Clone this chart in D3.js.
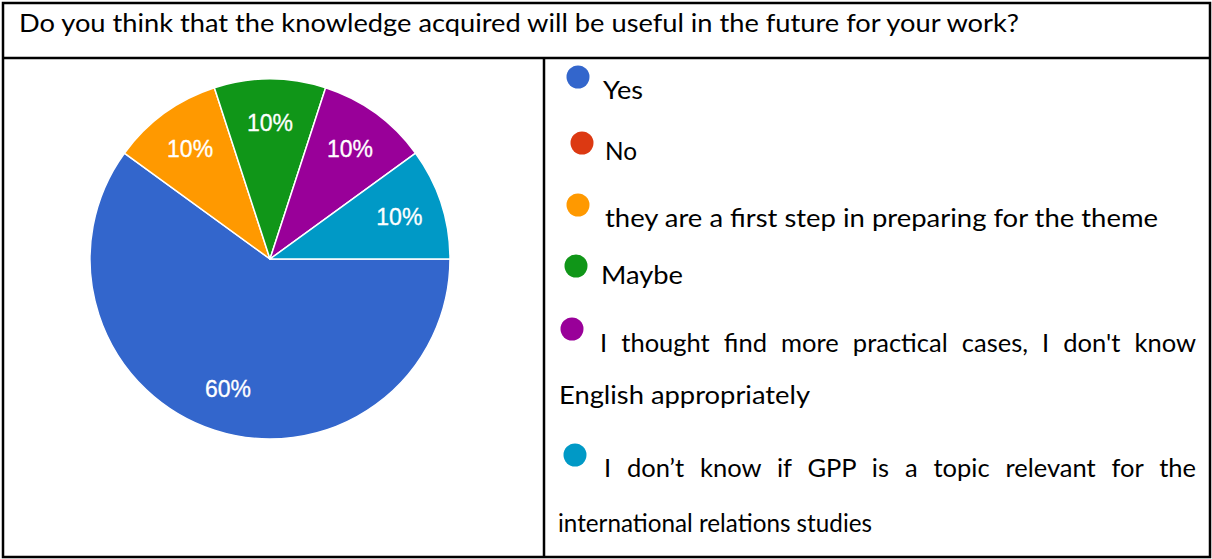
<!DOCTYPE html>
<html><head><meta charset="utf-8">
<script src="https://cdn.jsdelivr.net/npm/d3@7"></script>
<style>html,body{margin:0;padding:0;background:#fff;overflow:hidden}</style>
</head><body><svg id="c" width="1212" height="559"></svg>
<script>
// ---- data ----
const question = "Do you think that the knowledge acquired will be useful in the future for your work?";
const categories = [
  "Yes",
  "No",
  "they are a first step in preparing for the theme",
  "Maybe",
  "I thought find more practical cases, I don't know English appropriately",
  "I don’t know if GPP is a topic relevant for the international relations studies"
];
const percentages = [60, 0, 10, 10, 10, 10];
const palette = ["#3366cc", "#dc3912", "#ff9900", "#109618", "#990099", "#0099c6"];

// ---- layout ----
const W = 1212, H = 559;
const svg = d3.select("#c");
svg.append("rect").attr("width", W).attr("height", H).attr("fill", "#fff");

const textFont = "Lato, 'Open Sans', sans-serif";
const textSize = 25.5;

// table borders
const bx0 = 3, by0 = 3, bx1 = 1210, by1 = 557, headY = 58, divX = 544;
const lines = svg.append("g").attr("stroke", "#000").attr("stroke-width", 2.5).attr("fill", "none");
lines.append("rect").attr("x", bx0).attr("y", by0).attr("width", bx1 - bx0).attr("height", by1 - by0);
lines.append("line").attr("x1", bx0).attr("x2", bx1).attr("y1", headY).attr("y2", headY);
lines.append("line").attr("x1", divX).attr("x2", divX).attr("y1", headY).attr("y2", by1);

function fitText(sel, target, mode) {
  const n = sel.node();
  const nat = n.getComputedTextLength();
  const spaces = (sel.text().match(/ /g) || []).length;
  if (mode === "justify" && nat < target && spaces) {
    sel.attr("word-spacing", (target - nat) / spaces);
  } else {
    sel.attr("textLength", target).attr("lengthAdjust", "spacingAndGlyphs");
  }
}

// header
const head = svg.append("text").attr("x", 19).attr("y", 32)
  .attr("font-family", textFont).attr("font-size", textSize).attr("fill", "#000")
  .text(question);
fitText(head, 1000);

// pie
const cx = 270, cy = 259, R = 180;
const color = d3.scaleOrdinal().domain(categories).range(palette);
const pie = d3.pie().sort(null).value(d => d.v)
  .startAngle(Math.PI / 2).endAngle(Math.PI / 2 + 2 * Math.PI);
const data = categories.map((c, i) => ({ c, v: percentages[i] }));
const arcs = pie(data);
const arc = d3.arc().innerRadius(0).outerRadius(R);
const labelArc = d3.arc().innerRadius(136).outerRadius(136);
const g = svg.append("g").attr("transform", `translate(${cx},${cy})`);
g.selectAll("path").data(arcs.filter(a => a.data.v > 0)).join("path")
  .attr("d", arc).attr("fill", d => color(d.data.c))
  .attr("stroke", "#fff").attr("stroke-width", 1.5).attr("stroke-linejoin", "round");
g.selectAll("text").data(arcs.filter(a => a.data.v > 0)).join("text")
  .attr("transform", d => `translate(${labelArc.centroid(d)})`)
  .attr("text-anchor", "middle").attr("dy", "0.36em")
  .attr("font-family", "'Liberation Sans', Arial, sans-serif").attr("font-size", 23)
  .attr("fill", "#fff").attr("stroke", "#fff").attr("stroke-width", 0.3)
  .text(d => d.data.v + "%");

// legend layout (positions only)
const legendLayout = [
  { cx: 578, cy: 77, lines: [{ x: 603, y: 99, w: 40 }] },
  { cx: 582, cy: 143, lines: [{ x: 605, y: 160, w: 32 }] },
  { cx: 578, cy: 205, lines: [{ x: 605, y: 227, w: 553 }] },
  { cx: 576, cy: 266, lines: [{ x: 601, y: 284, w: 82 }] },
  { cx: 572, cy: 329, firstWords: 9, lines: [{ x: 600, y: 352, w: 596, mode: "justify" }, { x: 559, y: 404, w: 251 }] },
  { cx: 575, cy: 455, firstWords: 11, lines: [{ x: 604, y: 477, w: 592, mode: "justify" }, { x: 558, y: 532, w: 314 }] }
];

const leg = svg.append("g");
categories.forEach((c, i) => {
  const L = legendLayout[i];
  leg.append("circle").attr("cx", L.cx).attr("cy", L.cy).attr("r", 11.5).attr("fill", color(c));
  const words = c.split(" ");
  const parts = L.firstWords ? [words.slice(0, L.firstWords).join(" "), words.slice(L.firstWords).join(" ")] : [c];
  parts.forEach((p, j) => {
    const ln = L.lines[j];
    const t = leg.append("text").attr("x", ln.x).attr("y", ln.y)
      .attr("font-family", textFont).attr("font-size", textSize).attr("fill", "#000")
      .text(p);
    if (ln.w) fitText(t, ln.w, ln.mode);
  });
});
</script></body></html>
